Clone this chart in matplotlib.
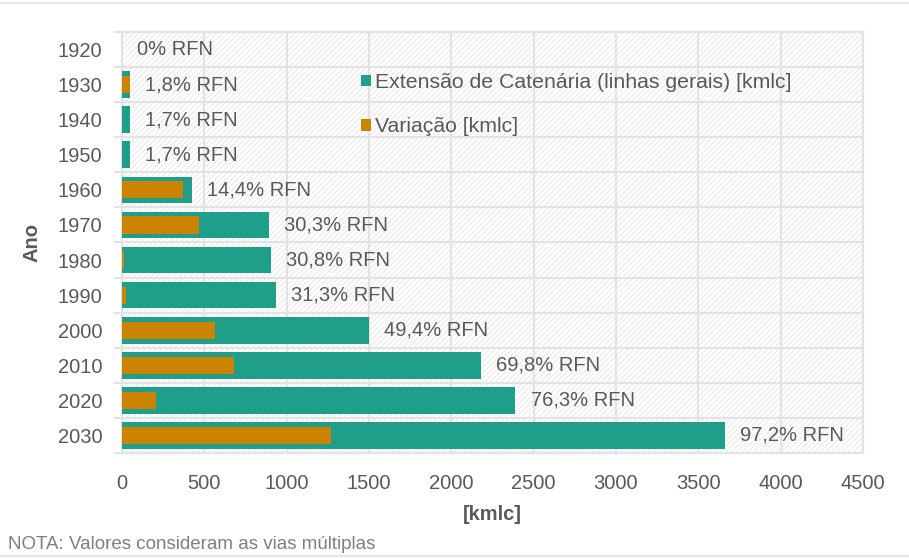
import numpy as np
import matplotlib
matplotlib.use("Agg")
import matplotlib.pyplot as plt
from matplotlib.patches import Rectangle

plt.rcParams['font.family'] = ['Liberation Sans', 'DejaVu Sans']

# data
anos = ['1920', '1930', '1940', '1950', '1960', '1970', '1980', '1990',
        '2000', '2010', '2020', '2030']
extensao = [0, 48, 46, 46, 423, 891, 907, 933, 1500, 2180, 2389, 3662]
variacao = [0, 46, 0, 0, 372, 468, 12, 24, 567, 680, 206, 1271]
pct_rfn = ['0%', '1,8%', '1,7%', '1,7%', '14,4%', '30,3%', '30,8%', '31,3%',
           '49,4%', '69,8%', '76,3%', '97,2%']
xticks = [0, 500, 1000, 1500, 2000, 2500, 3000, 3500, 4000, 4500]

teal = '#1f9e89'
orange = '#cc8400'
txt = '#595959'
grid = '#e3e3e3'
fs = 14.5

plt.rcParams['hatch.color'] = '#ebebeb'
plt.rcParams['hatch.linewidth'] = 0.8

fig = plt.figure(figsize=(9.09, 5.58), dpi=100)
ax = fig.add_axes([0.1342, 0.1882, 0.8152, 0.7545])

y = np.arange(len(anos))

# hatched background
bg = Rectangle((0, 0), 1, 1, transform=ax.transAxes, facecolor='white',
               edgecolor='#ebebeb', hatch='//////', lw=0, zorder=0)
ax.add_patch(bg)

ax.barh(y, extensao, height=0.76, color=teal, zorder=3,
        label='Extensão de Catenária (linhas gerais) [kmlc]')
ax.barh(y, variacao, height=0.49, color=orange, zorder=4,
        label='Variação [kmlc]')

for i in range(len(anos)):
    ax.text(extensao[i] + 92, y[i], pct_rfn[i] + ' RFN', va='center',
            ha='left', fontsize=fs, color=txt, zorder=5)

ax.set_xlim(0, 4500)
ax.set_ylim(len(anos) - 0.5, -0.5)
ax.set_xticks(xticks)
ax.set_yticks(y)
ax.set_yticklabels(anos)
ax.tick_params(axis='both', length=0, labelsize=fs, labelcolor=txt)
ax.tick_params(axis='y', pad=14)
ax.tick_params(axis='x', pad=15)

# grid
for v in xticks:
    ax.axvline(v, color=grid, lw=1.5, zorder=1)
for k in range(len(anos) + 1):
    ax.axhline(k - 0.5, xmin=-7 / 741, xmax=1, color=grid, lw=1.5,
               zorder=1, clip_on=False)
for s in ax.spines.values():
    s.set_color(grid)
    s.set_linewidth(1.5)

ax.set_xlabel('[kmlc]', fontsize=fs, fontweight='bold', color=txt, labelpad=9)
ax.set_ylabel('Ano', fontsize=fs, fontweight='bold', color=txt, labelpad=12)

leg = ax.legend(loc='upper left', bbox_to_anchor=(0.297, 0.948), frameon=False,
                fontsize=15.3, handlelength=0.45, handleheight=0.45,
                handletextpad=0.2, labelspacing=1.2)
for t in leg.get_texts():
    t.set_color(txt)

fig.text(0.009, 0.016, 'NOTA: Valores consideram as vias múltiplas',
         fontsize=13.5, color='#7f7f7f')

# chart border lines
fig.add_artist(plt.Line2D([0, 1], [0.995, 0.995], color='#e6e6e6', lw=1.5))
fig.add_artist(plt.Line2D([0, 1], [0.004, 0.004], color='#e6e6e6', lw=1.5))

fig.savefig('out.png', dpi=100)
